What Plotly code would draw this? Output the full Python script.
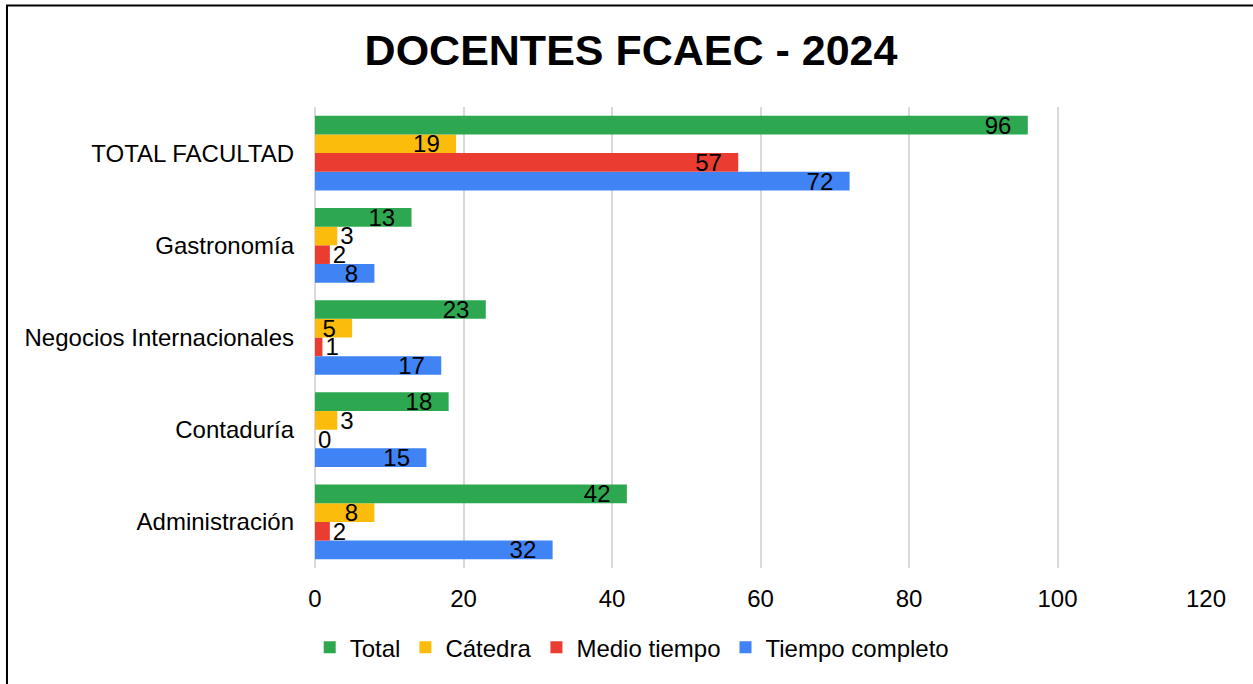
import plotly.graph_objects as go

categories = ["Administración", "Contaduría", "Negocios Internacionales", "Gastronomía", "TOTAL FACULTAD"]
tiempo_completo = [32, 15, 17, 8, 72]
medio_tiempo = [2, 0, 1, 2, 57]
catedra = [8, 3, 5, 3, 19]
total = [42, 18, 23, 13, 96]
x_ticks = [0, 20, 40, 60, 80, 100, 120]

series = [
    ("Tiempo completo", tiempo_completo, "#3f83f4"),
    ("Medio tiempo", medio_tiempo, "#ea3c30"),
    ("Cátedra", catedra, "#fbbc0b"),
    ("Total", total, "#2ea850"),
]

FONT = "Liberation Sans, Arial, sans-serif"
NB = "\u00a0\u00a0"

fig = go.Figure()
for name, vals, color in series:
    fig.add_trace(go.Bar(
        y=categories, x=vals, name=name, orientation="h",
        marker=dict(color=color, line=dict(width=0)),
        text=[str(v) for v in vals],
        texttemplate="%{text}" + NB,
        textposition=["outside" if v <= 3 else "inside" for v in vals],
        insidetextanchor="end",
        constraintext="none",
        textangle=0,
        textfont=dict(family=FONT, size=24, color="black"),
        cliponaxis=False,
    ))

fig.update_layout(
    width=1253, height=684,
    paper_bgcolor="white", plot_bgcolor="white",
    barmode="group", bargap=0.19, bargroupgap=0,
    margin=dict(l=315, r=47, t=107, b=116),
    title=dict(text="<b>DOCENTES FCAEC - 2024</b>", x=0.5036, xref="container", xanchor="center",
               y=1 - 50 / 684, yref="container", yanchor="middle",
               font=dict(family=FONT, size=43, color="black")),
    legend=dict(orientation="h", traceorder="reversed", x=0.356, xanchor="center",
                y=-0.173, yanchor="middle", font=dict(family=FONT, size=24, color="black"),
                itemwidth=30),
    showlegend=True,
    shapes=[dict(type="rect", xref="paper", yref="paper", x0=-0.3457, x1=1.07, y0=-0.27, y1=1.2203,
                 line=dict(color="black", width=2), fillcolor="rgba(0,0,0,0)", layer="above")],
)
fig.update_xaxes(range=[0, 120], tickvals=x_ticks, showgrid=True, gridcolor="#d9d9d9", gridwidth=2,
                 zeroline=True, zerolinecolor="#d9d9d9", zerolinewidth=2, showline=False,
                 ticks="", ticklabelstandoff=14,
                 tickfont=dict(family=FONT, size=24, color="black"), fixedrange=True)
fig.update_yaxes(showgrid=False, showline=False, ticks="", ticklabelstandoff=20,
                 tickfont=dict(family=FONT, size=24, color="black"), fixedrange=True)

fig.write_html("out.html", config={"displayModeBar": False},
               post_script="document.body.style.margin='0';document.body.style.overflow='hidden';")
